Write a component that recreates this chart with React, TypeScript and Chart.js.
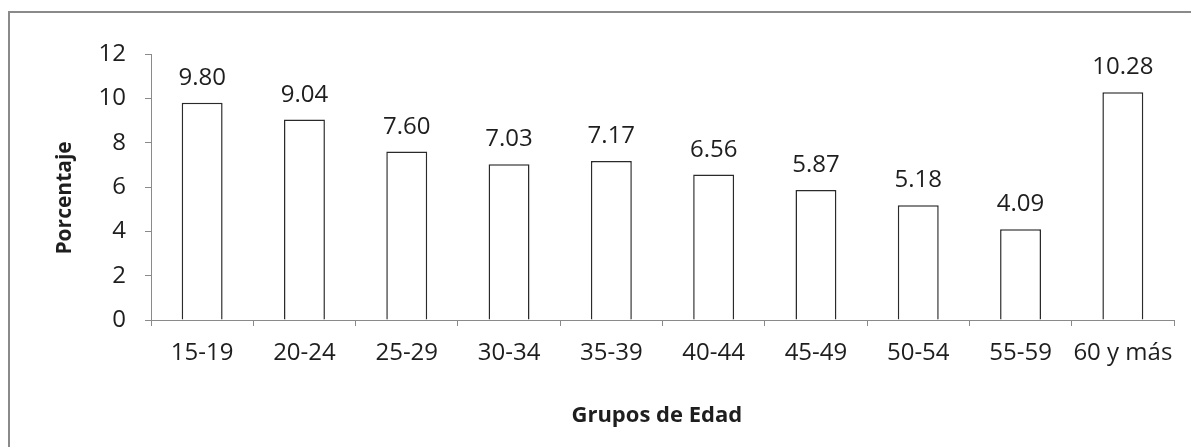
import React, { useEffect, useRef } from "react";
import { Chart, registerables } from "chart.js";

Chart.register(...registerables);

const categories = ["15-19", "20-24", "25-29", "30-34", "35-39", "40-44", "45-49", "50-54", "55-59", "60 y más"];
const porcentajes = [9.8, 9.04, 7.6, 7.03, 7.17, 6.56, 5.87, 5.18, 4.09, 10.28];
const yTitle = "Porcentaje    ";
const xTitle = "Grupos de Edad  ";

const FONT = "'Open Sans', 'Noto Sans', sans-serif";
const AXIS = "#8a8a8a";
const TEXT = "#1e1e1e";

const borderPlugin = {
  id: "outerBorder",
  beforeDraw(chart: any) {
    const ctx = chart.ctx;
    ctx.save();
    ctx.fillStyle = "#ffffff";
    ctx.fillRect(0, 0, chart.width, chart.height);
    ctx.strokeStyle = AXIS;
    ctx.lineWidth = 2;
    ctx.strokeRect(9, 12, chart.width + 50, chart.height + 50);
    ctx.restore();
  },
};

const valueLabels = {
  id: "valueLabels",
  afterDatasetsDraw(chart: any) {
    const ctx = chart.ctx;
    const meta = chart.getDatasetMeta(0);
    const data = chart.data.datasets[0].data;
    ctx.save();
    ctx.font = `24px ${FONT}`;
    ctx.fillStyle = TEXT;
    ctx.textAlign = "center";
    ctx.textBaseline = "alphabetic";
    meta.data.forEach((bar: any, i: number) => {
      ctx.fillText(Number(data[i]).toFixed(2), bar.x, bar.y - 18);
    });
    ctx.restore();
  },
};

export default function App() {
  const ref = useRef<HTMLCanvasElement | null>(null);
  useEffect(() => {
    if (!ref.current) return;
    const chart = new Chart(ref.current, {
      type: "bar",
      data: {
        labels: categories,
        datasets: [
          {
            data: porcentajes,
            backgroundColor: "#ffffff",
            borderColor: "#2a2a2a",
            borderWidth: 1.5,
            barPercentage: 0.4,
            categoryPercentage: 1,
          },
        ],
      },
      options: {
        animation: false,
        responsive: false,
        layout: { padding: { top: 54, right: 17, left: 0, bottom: 0 } },
        plugins: { legend: { display: false }, tooltip: { enabled: false } },
        scales: {
          x: {
            offset: true,
            grid: { offset: true, drawOnChartArea: false, drawTicks: true, tickLength: 6, color: AXIS },
            border: { display: true, color: AXIS, width: 1 },
            ticks: { color: TEXT, font: { family: FONT, size: 24 }, padding: 13, maxRotation: 0, autoSkip: false },
            title: { display: true, text: xTitle, color: TEXT, font: { family: FONT, size: 22, weight: "bold" }, padding: { bottom: 18, top: 0 } },
            afterFit(s: any) { s.height = 127; },
          },
          y: {
            min: 0,
            max: 12,
            ticks: { stepSize: 2, color: TEXT, font: { family: FONT, size: 24 }, padding: 19 },
            grid: { drawOnChartArea: false, drawTicks: true, tickLength: 6, color: AXIS },
            border: { display: true, color: AXIS, width: 1 },
            title: { display: true, text: yTitle, color: TEXT, font: { family: FONT, size: 21, weight: "bold" }, padding: { top: 52, bottom: 0 } },
            afterFit(s: any) { s.width = 151; },
          },
        },
      },
      plugins: [borderPlugin, valueLabels],
    } as any);
    return () => chart.destroy();
  }, []);
  return (
    <div style={{ position: "absolute", left: 0, top: 0, width: 1191, height: 447 }}>
      <canvas ref={ref} width={1191} height={447} />
    </div>
  );
}
